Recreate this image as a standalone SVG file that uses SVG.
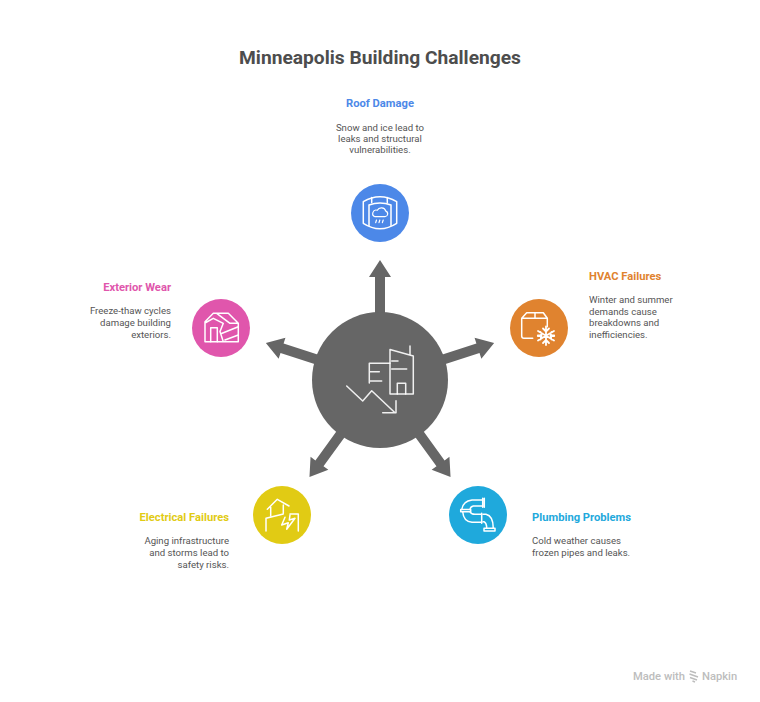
<svg xmlns="http://www.w3.org/2000/svg" width="760" height="702" viewBox="0 0 760 702">
<style>
text{font-family:Roboto,"Liberation Sans",sans-serif}
.title{font-size:19.2px;font-weight:700;fill:#4d4d4d;text-anchor:middle}
.h{font-size:11.2px;font-weight:700}
.b{font-size:9.6px;fill:#555}
.m{text-anchor:middle}.e{text-anchor:end}
.ic{fill:none;stroke:#fff;stroke-width:1.5;stroke-linecap:round;stroke-linejoin:round}
.arrow{fill:#666}
</style>
<defs>
<polygon id="arr" points="380,260 391,277 385,277 385,320 375,320 375,277 369,277"/>
</defs>
<rect width="760" height="702" fill="#fff"/>
<text class="title" x="380" y="64">Minneapolis Building Challenges</text>
<g id="connectors" class="arrow">
<use href="#arr"/>
<use href="#arr" transform="rotate(72 380 380)"/>
<use href="#arr" transform="rotate(144 380 380)"/>
<use href="#arr" transform="rotate(216 380 380)"/>
<use href="#arr" transform="rotate(288 380 380)"/>
</g>
<g id="center">
<circle cx="380" cy="380" r="68" fill="#666"/>
<g class="ic" stroke-opacity=".9">
<path d="M390 349.500V394H413.300V356L390 349.500M410 346V355M391.700 361H398M391.700 369H406.700"/>
<path d="M390 363.300H369.300V383M369.300 371.700H379.300M369.300 381H381.700M397.300 394V383.300H405.700V394"/>
<path d="M346.700 386L362.700 401L371.700 390.700L395 412.700M382.700 412.700H396V400.700"/>
</g>
</g>
<g id="roof">
<circle cx="380" cy="213" r="29" fill="#4c88e8"/>
<g class="ic">
<path d="M363.300 201.700Q380 192 396.700 201.700V223.300Q380 234 363.300 223.300Z"/>
<path d="M369 205Q380 201 391 205M369 205V225.500M391 205V225.500M371.700 197.500V202.500M387.300 197.500V202.500"/>
<path d="M375 216.700H385A2.900 2.900 0 0 0 385.800 211.100A4.600 4.600 0 0 0 377.300 210.300A3.300 3.300 0 0 0 375 216.700Z" stroke-width="1.200"/>
<path d="M376.500 220L375.700 222.700M379.800 220L379 222.700M383.200 220L382.400 222.700" stroke-width="1.200"/>
</g>
<text class="h m" x="380" y="107" fill="#4c88e8">Roof Damage</text>
<text class="b m" x="380" y="131">Snow and ice lead to</text>
<text class="b m" x="380" y="142">leaks and structural</text>
<text class="b m" x="380" y="153">vulnerabilities.</text>
</g>
<g id="hvac">
<circle cx="539" cy="328" r="29" fill="#e0832f"/>
<g class="ic">
<path d="M532.700 338.300H524Q521.700 338.300 521.700 336V318.300L526.700 312.700H543.300L547.300 318.300V326.700M521.700 318.300H547.300M535 312.700V318.300"/>
<path stroke-width="1.800" d="M546 326.500V345M538 331L554 340.500M554 331L538 340.500M543 328.500L546 331.500L549 328.500M543 343L546 340L549 343M537.800 335.500L541.500 335.500L540.500 332M554.200 335.500L550.500 335.500L551.500 332M537.800 336L541.500 336L540.500 339.500M554.200 336L550.500 336L551.500 339.500"/>
</g>
<text class="h" x="589" y="280" fill="#e0832f">HVAC Failures</text>
<text class="b" x="589" y="303">Winter and summer</text>
<text class="b" x="589" y="315">demands cause</text>
<text class="b" x="589" y="326">breakdowns and</text>
<text class="b" x="589" y="338">inefficiencies.</text>
</g>
<g id="plumbing">
<circle cx="478" cy="515" r="29" fill="#1fa9dc"/>
<g class="ic">
<path d="M482.700 500H472Q463 501 461.700 509.500M482.700 506H473.300Q470.500 506.500 470 509.500"/>
<path d="M482.700 498.300V507.300M484.300 498.300V507.300M460.700 509.500H470.700V511.700H460.700Z"/>
<path d="M462.700 511.700Q463.500 521.500 472 522.300H481.700M470 511.700Q471 514.300 475 514.300H481.700"/>
<path d="M481.700 513.300V523.300M483.300 514.300H486Q493.300 516 493.300 528.300M483.300 521.700H484Q486.700 523 486.700 528.300M484 528.300H495V531H484Z"/>
</g>
<text class="h" x="532" y="521" fill="#1fa9dc">Plumbing Problems</text>
<text class="b" x="532" y="544">Cold weather causes</text>
<text class="b" x="532" y="556">frozen pipes and leaks.</text>
</g>
<g id="electrical">
<circle cx="282" cy="515" r="29" fill="#e1cb14"/>
<g class="ic">
<path d="M267.300 509.300L277.300 499.300L289 506M270.700 507.300V516M283.300 505V513.300"/>
<path d="M266 531V518.300L283.300 514M298.300 531V514H290"/>
<path d="M285 517.300L281.700 525L288.300 522.700L286.700 529.300L295 518.300L289.300 520L290 515"/>
</g>
<text class="h e" x="229" y="521" fill="#e1cb14">Electrical Failures</text>
<text class="b e" x="229" y="544">Aging infrastructure</text>
<text class="b e" x="229" y="556">and storms lead to</text>
<text class="b e" x="229" y="568">safety risks.</text>
</g>
<g id="exterior">
<circle cx="221" cy="328" r="29" fill="#e056ac"/>
<g class="ic">
<path d="M205 321.700L213.300 313.300H228.300L238.300 323.300V341.700H205ZM216.700 313.300L230 323.300H238.300M205 323L213.300 318.300L223.300 323.300L220 331.500L223.300 341.700"/>
<path d="M210.700 341.700V327.700H217.300V341.700M221.500 333.500L238.300 326.700M225 340L238.300 335"/>
</g>
<text class="h e" x="171" y="291" fill="#e056ac">Exterior Wear</text>
<text class="b e" x="171" y="314">Freeze-thaw cycles</text>
<text class="b e" x="171" y="326">damage building</text>
<text class="b e" x="171" y="338">exteriors.</text>
</g>
<g id="footer">
<text x="633" y="680" font-size="11.200" font-weight="500" fill="#bdbdbd">Made with</text>
<path d="M690 671L696 673M689.500 674L698 677M690 677.500L697 680M692.500 681L695 682" fill="none" stroke="#bdbdbd" stroke-width="1.500"/>
<text x="702" y="680" font-size="11.200" font-weight="500" fill="#bdbdbd">Napkin</text>
</g>
</svg>
